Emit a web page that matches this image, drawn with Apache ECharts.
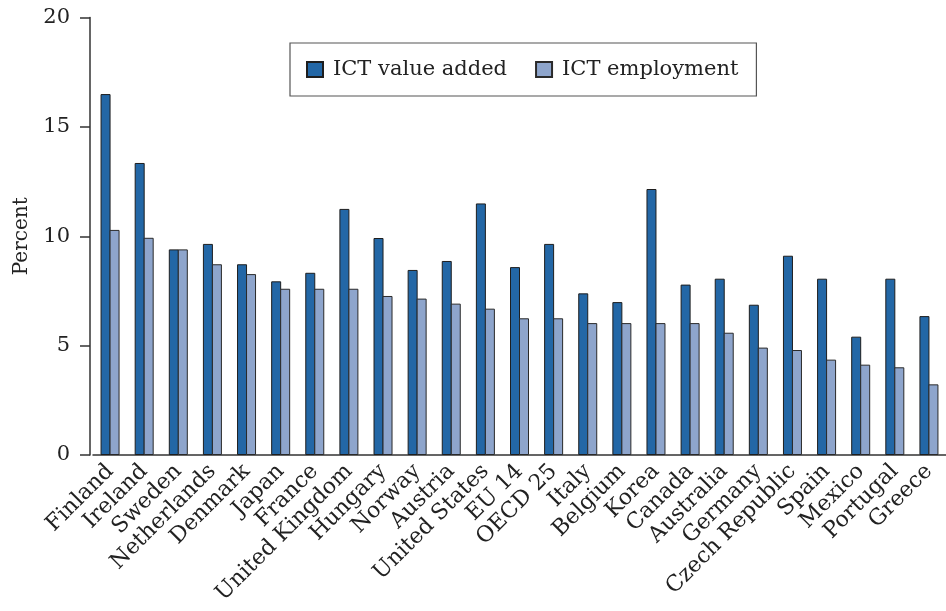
<!DOCTYPE html>
<html>
<head>
<meta charset="utf-8">
<script src="https://cdn.jsdelivr.net/npm/echarts@6/dist/echarts.min.js"></script>
<style>html,body{margin:0;padding:0;background:#fff;}#c{width:946px;height:611px;}</style>
</head>
<body>
<div id="c"></div>
<script>
const categories = ["Finland","Ireland","Sweden","Netherlands","Denmark","Japan","France","United Kingdom","Hungary","Norway","Austria","United States","EU 14","OECD 25","Italy","Belgium","Korea","Canada","Australia","Germany","Czech Republic","Spain","Mexico","Portugal","Greece"];
const valueAdded = [16.5,13.35,9.4,9.65,8.72,7.94,8.33,11.25,9.92,8.46,8.87,11.5,8.59,9.65,7.39,6.99,12.16,7.79,8.06,6.87,9.11,8.06,5.41,8.06,6.35];
const employment = [10.29,9.93,9.4,8.72,8.27,7.6,7.6,7.6,7.27,7.15,6.92,6.69,6.25,6.25,6.03,6.03,6.03,6.03,5.59,4.91,4.8,4.36,4.13,4.01,3.23];
const seriesNames = ["ICT value added","ICT employment"];
const yTicks = [0,5,10,15,20];

const FONT = 'DejaVu Serif';
const chart = echarts.init(document.getElementById('c'), null, {renderer:'canvas'});
chart.setOption({
  animation:false,
  backgroundColor:'#fff',
  textStyle:{fontFamily:FONT,color:'#222'},
  grid:{left:93,top:17.5,width:854.2,height:437.5,containLabel:false},
  legend:{
    left:290, top:43,
    data:seriesNames,
    icon:'rect',
    orient:'horizontal',
    itemWidth:16, itemHeight:15, itemGap:28,
    padding:[16,18,16,16],
    borderColor:'#555', borderWidth:1.2,
    textStyle:{fontFamily:FONT,fontSize:21,color:'#222',padding:[0,0,0,5]}
  },
  xAxis:{
    type:'category',
    data:categories,
    axisLine:{lineStyle:{color:'#333',width:1.5}},
    axisTick:{alignWithLabel:true,length:10,lineStyle:{color:'#333',width:1.5}},
    axisLabel:{rotate:45,interval:0,fontFamily:FONT,fontSize:22,color:'#222',margin:13}
  },
  yAxis:{
    type:'value',min:0,max:20,interval:5,offset:3,
    name:'Percent',nameLocation:'middle',nameGap:58,
    nameTextStyle:{fontFamily:FONT,fontSize:20,color:'#222'},
    axisLine:{show:true,lineStyle:{color:'#333',width:1.5}},
    axisTick:{show:true,length:10,lineStyle:{color:'#333',width:1.5}},
    splitLine:{show:false},
    axisLabel:{fontFamily:FONT,fontSize:21,color:'#222',margin:20,
      formatter:function(v){return yTicks.indexOf(v)>=0?String(v):'';}}
  },
  series:[
    {name:seriesNames[0],type:'bar',data:valueAdded,barWidth:10,barGap:'-10%',
     itemStyle:{color:'#2367a6',borderColor:'#1e1e1e',borderWidth:1}},
    {name:seriesNames[1],type:'bar',data:employment,barWidth:10,barGap:'-10%',
     itemStyle:{color:'#8ea5cc',borderColor:'#2a2a2a',borderWidth:1}}
  ]
});
</script>
</body>
</html>
